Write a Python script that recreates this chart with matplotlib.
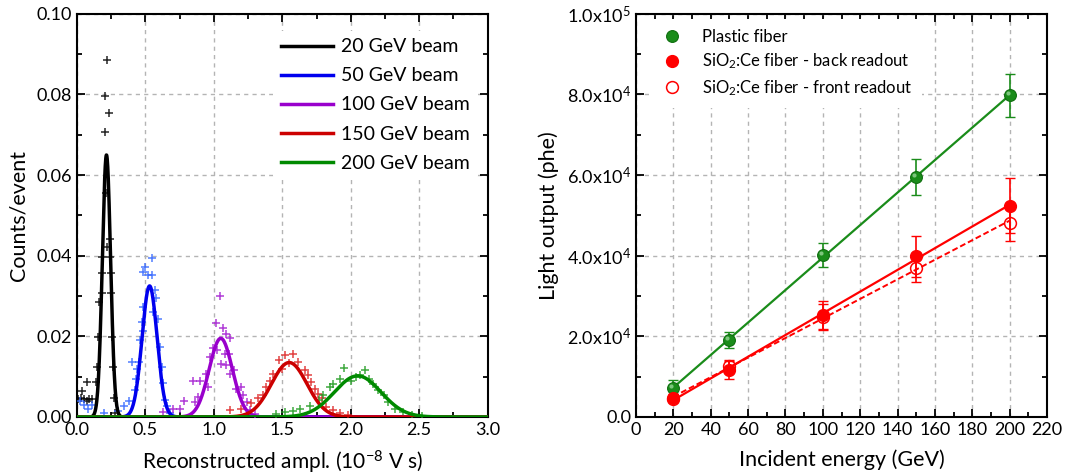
import matplotlib.pyplot as plt
import numpy as np
from matplotlib.ticker import MultipleLocator
from matplotlib.transforms import ScaledTranslation

plt.rcParams['font.family'] = ['Lato', 'DejaVu Sans']
plt.rcParams['mathtext.fontset'] = 'custom'
plt.rcParams['mathtext.rm'] = 'Lato'
plt.rcParams['mathtext.it'] = 'Lato:italic'

# ---- left panel: amplitude spectra (points) + gaussian fits ----
beams = ['20 GeV beam', '50 GeV beam', '100 GeV beam', '150 GeV beam', '200 GeV beam']
line_colors = ['black', '#0000ee', '#9900cc', '#cc0000', '#008a00']
pt_colors = ['black', '#3366ff', '#a31ad1', '#dd2222', '#1f9a1f']

black_x = [0.01, 0.03, 0.05, 0.07, 0.09, 0.11, 0.034, 0.075, 0.14, 0.143, 0.155, 0.163, 0.18, 0.18,
           0.18, 0.204, 0.207, 0.215, 0.222, 0.222, 0.231, 0.241, 0.241, 0.246, 0.25, 0.253, 0.26, 0.272, 0.28]
black_y = [0.0045, 0.0047, 0.0045, 0.0040, 0.0045, 0.0045, 0.0065, 0.0087, 0.0087, 0.0125, 0.0199, 0.0286,
           0.0308, 0.0357, 0.0398, 0.0797, 0.0708, 0.0556, 0.0886, 0.0421, 0.0753, 0.0441, 0.0398, 0.0357,
           0.0308, 0.0199, 0.0125, 0.0046, 0.001]
blue_x = [0.02, 0.05, 0.08, 0.11, 0.2, 0.3, 0.34, 0.38, 0.40, 0.42, 0.43, 0.44, 0.45, 0.46, 0.472, 0.479,
          0.484, 0.484, 0.50, 0.52, 0.545, 0.55, 0.557, 0.57, 0.58, 0.594, 0.606, 0.618, 0.63, 0.64, 0.655, 0.68]
blue_y = [0.004, 0.003, 0.002, 0.003, 0.001, 0.0015, 0.0028, 0.004, 0.0137, 0.0066, 0.0093, 0.012, 0.0137,
          0.019, 0.0235, 0.0214, 0.036, 0.0272, 0.0371, 0.0352, 0.0352, 0.0395, 0.026, 0.0316, 0.0296, 0.0243,
          0.0174, 0.0125, 0.0085, 0.0042, 0.0028, 0.001]
purple_x = [0.63, 0.70, 0.75, 0.78, 0.85, 0.86, 0.887, 0.90, 0.94, 0.96, 0.972, 0.99, 1.015, 1.023, 1.046,
            1.05, 1.063, 1.08, 1.09, 1.09, 1.11, 1.117, 1.117, 1.15, 1.16, 1.2, 1.21, 1.24, 1.26, 1.3]
purple_y = [0.0012, 0.002, 0.002, 0.004, 0.009, 0.0037, 0.0049, 0.009, 0.0107, 0.0074, 0.0149, 0.017, 0.0234,
            0.0166, 0.030, 0.0132, 0.022, 0.0157, 0.0207, 0.0128, 0.0157, 0.0195, 0.0107, 0.0117, 0.0069,
            0.0074, 0.0054, 0.0037, 0.0018, 0.0008]
red_x = [1.12, 1.2, 1.27, 1.32, 1.36, 1.38, 1.412, 1.432, 1.475, 1.494, 1.518, 1.55, 1.578, 1.615, 1.664,
         1.69, 1.71, 1.74, 1.76, 1.79, 1.82, 1.87, 1.92, 1.98]
red_y = [0.0017, 0.002, 0.0034, 0.0046, 0.0054, 0.0074, 0.009, 0.0107, 0.0142, 0.012, 0.0154, 0.0135, 0.0155,
         0.0137, 0.0116, 0.0105, 0.0087, 0.0069, 0.0058, 0.0046, 0.0025, 0.0017, 0.0009, 0.0004]
green_x = [1.45, 1.52, 1.58, 1.63, 1.70, 1.77, 1.80, 1.85, 1.87, 1.92, 1.951, 2.0, 2.04, 2.07, 2.1, 2.13,
           2.16, 2.2, 2.24, 2.27, 2.32, 2.38, 2.45, 2.52]
green_y = [0.0008, 0.0012, 0.0016, 0.002, 0.0028, 0.0042, 0.0054, 0.0074, 0.0083, 0.0094, 0.0121, 0.009,
           0.0098, 0.0105, 0.0116, 0.0095, 0.0083, 0.0066, 0.0054, 0.0037, 0.002, 0.0012, 0.0005, 0.0003]

# gaussian fit parameters
fit_amp = [0.065, 0.0325, 0.0195, 0.0135, 0.0102]
fit_mean = [0.215, 0.53, 1.05, 1.55, 2.05]
fit_sigma = [0.03, 0.055, 0.085, 0.13, 0.17]

# ---- right panel: light output vs energy ----
energy = [20, 50, 100, 150, 200]
plastic = [7280, 19070, 40220, 59450, 79770]
plastic_err = [1800, 2000, 3000, 4500, 5300]
back = [4800, 11570, 25270, 39880, 52440]
back_err = [800, 2200, 3600, 5100, 6800]
front = [4400, 12630, 24870, 37000, 48150]
front_err = [600, 1500, 3100, 3600, 4500]

fig = plt.figure(figsize=(10.79, 4.76), dpi=100)
ax1 = fig.add_axes([0.0714, 0.124, 0.3806, 0.847])
ax2 = fig.add_axes([0.5894, 0.124, 0.3810, 0.847])

pts = [(black_x, black_y), (blue_x, blue_y), (purple_x, purple_y), (red_x, red_y), (green_x, green_y)]
xs = np.linspace(0, 3, 1500)
for i in range(5):
    ax1.plot(pts[i][0], pts[i][1], '+', color=pt_colors[i], ms=6, mew=1.1, alpha=0.85, zorder=3)
for i in range(5):
    g = fit_amp[i] * np.exp(-0.5 * ((xs - fit_mean[i]) / fit_sigma[i]) ** 2)
    ax1.plot(xs, g, color=line_colors[i], lw=2.5, label=beams[i], zorder=4)

ax1.set_xlim(0, 3)
ax1.set_ylim(0, 0.1)
ax1.xaxis.set_major_locator(MultipleLocator(0.5))
ax1.xaxis.set_minor_locator(MultipleLocator(0.25))
ax1.yaxis.set_major_locator(MultipleLocator(0.02))
ax1.yaxis.set_minor_locator(MultipleLocator(0.01))
ax1.xaxis.set_major_formatter(lambda v, p: f'{v:.1f}')
ax1.yaxis.set_major_formatter(lambda v, p: f'{v:.2f}')
ax1.set_xlabel('Reconstructed ampl. (10$^{-8}$ V s)', fontsize=15, labelpad=8)
ax1.set_ylabel('Counts/event', fontsize=15.5, labelpad=6)
ax1.legend(loc='upper right', fontsize=14, frameon=True, framealpha=1, edgecolor='none',
           handlelength=2.7, handletextpad=0.4, labelspacing=0.62, borderaxespad=0.2,
           bbox_to_anchor=(0.985, 0.968))

# right panel
c_green = '#1a8c1a'
c_red = '#ff0000'
ax2.errorbar(energy, plastic, yerr=plastic_err, fmt='none', ecolor=c_green, elinewidth=1.2, capsize=3.5, zorder=2)
ax2.errorbar(energy, back, yerr=back_err, fmt='none', ecolor=c_red, elinewidth=1.2, capsize=3.5, zorder=2)
ax2.errorbar(energy, front, yerr=front_err, fmt='none', ecolor=c_red, elinewidth=1.2, capsize=3.5, zorder=2)

xl = np.array([20, 200])
pg = np.polyfit(energy, plastic, 1)
pb = np.polyfit(energy, back, 1)
pf = np.polyfit(energy, front, 1)
ax2.plot(xl, np.polyval(pg, xl), color=c_green, lw=1.6, zorder=3)
ax2.plot(xl, np.polyval(pb, xl), color=c_red, lw=1.6, zorder=3)
ax2.plot(xl, np.polyval(pf, xl), color=c_red, lw=1.4, ls=(0, (3, 1.5)), zorder=3)

ax2.plot(energy, plastic, 'o', ms=8.5, mfc=c_green, mec='#0f6e0f', mew=0.8, label='Plastic fiber', zorder=4)
shine = ax2.transData + ScaledTranslation(-2 / 100, 2 / 100, fig.dpi_scale_trans)
ax2.plot(energy, plastic, 'o', ms=3, mfc='#a8e0a8', mec='none', alpha=0.7, zorder=5, transform=shine)
ax2.plot(energy, back, 'o', ms=8.5, mfc=c_red, mec=c_red, label='SiO$_2$:Ce fiber - back readout', zorder=4)
ax2.plot(energy, front, 'o', ms=8.5, mfc='none', mec=c_red, mew=1.1, label='SiO$_2$:Ce fiber - front readout', zorder=5)

ax2.set_xlim(0, 220)
ax2.set_ylim(0, 1e5)
ax2.xaxis.set_major_locator(MultipleLocator(20))
ax2.xaxis.set_minor_locator(MultipleLocator(10))
ax2.yaxis.set_major_locator(MultipleLocator(2e4))
ax2.yaxis.set_minor_locator(MultipleLocator(1e4))


def sci(v, p):
    if v <= 0:
        return '0.0'
    e = int(np.floor(np.log10(v) + 1e-9))
    return f'{v / 10 ** e:.1f}x10$^{{{e}}}$'


ax2.yaxis.set_major_formatter(sci)
ax2.set_xlabel('Incident energy (GeV)', fontsize=15.5, labelpad=8)
ax2.set_ylabel('Light output (phe)', fontsize=15.5, labelpad=6)
ax2.legend(loc='upper left', fontsize=12, frameon=True, framealpha=1, edgecolor='none',
           handlelength=1.0, handletextpad=1.3, labelspacing=0.4, borderaxespad=0.3,
           borderpad=0.6, bbox_to_anchor=(0.03, 1.0))

for ax in (ax1, ax2):
    ax.grid(True, which='major', color='#b4b4b4', ls=(0, (3, 3)), lw=1.0)
    ax.set_axisbelow(True)
    ax.tick_params(which='both', direction='in', top=True, right=True, labelsize=13, width=1.3)
    ax.tick_params(which='major', length=6)
    ax.tick_params(which='minor', length=3.5)
    for s in ax.spines.values():
        s.set_linewidth(1.5)
    ax.get_legend().set_zorder(10)

fig.savefig('out.png', dpi=100)
